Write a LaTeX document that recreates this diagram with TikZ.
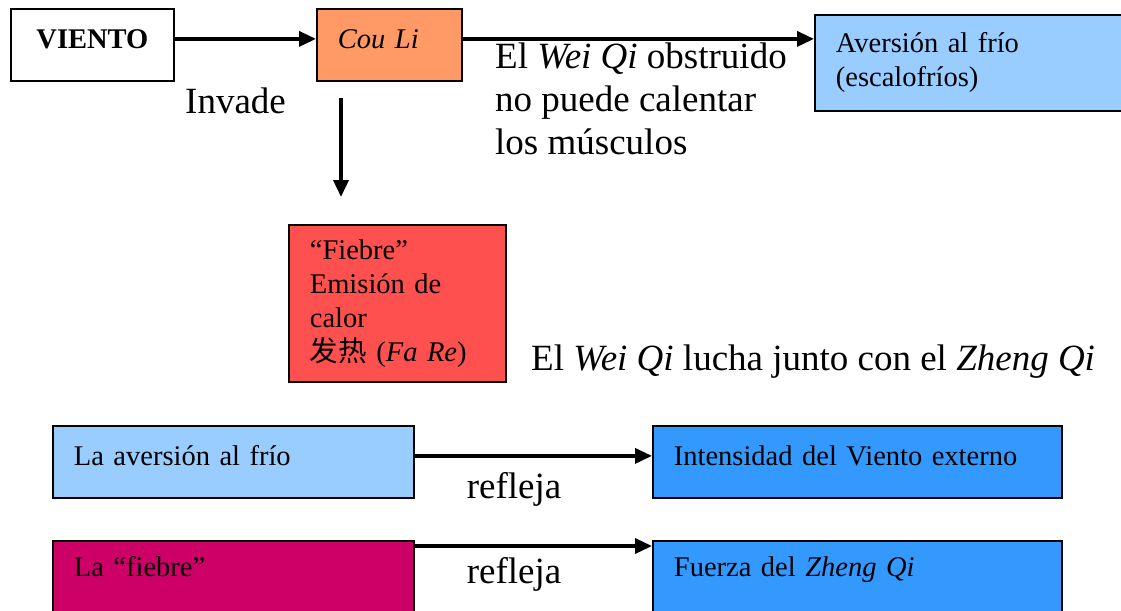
\documentclass[tikz,border=0pt]{standalone}
\usepackage{fontspec}
\setmainfont{Liberation Serif}
\newfontfamily\cjk{Noto Sans CJK SC}
\usepackage{xcolor}
\usetikzlibrary{arrows.meta}
\definecolor{naranja}{HTML}{FF9966}
\definecolor{rojo}{HTML}{FF5050}
\definecolor{celeste}{HTML}{99CCFF}
\definecolor{azul}{HTML}{3399FF}
\definecolor{granate}{HTML}{CC0066}
\tikzstyle{arr}=[-{Triangle[length=17pt,width=15pt]},line width=3.5pt]
\tikzstyle{box}=[draw,line width=1.8pt,anchor=north west,inner xsep=21pt,inner ysep=0pt,align=left,font=\fontsize{28.5}{34}\selectfont]
\tikzstyle{fila}=[box,text height=39.5pt,text depth=32.5pt]
\tikzstyle{lbl}=[inner sep=0pt,anchor=base west,align=left,font=\fontsize{37}{43}\selectfont]

\begin{document}
\begin{tikzpicture}[x=1pt,y=-1pt]
\useasboundingbox (0,0) rectangle (1121,610);
\clip (0,0) rectangle (1121,610);
\node[fila,align=center,text width=121pt] (viento) at (10,8) {\textbf{VIENTO}};
\node[fila,fill=naranja,text width=103pt] (couli) at (316,8) {\textit{Cou Li}};
\node[box,fill=celeste,text width=288pt,minimum height=96pt] (aver) at (814,14) {Aversión al frío\\(escalofríos)};
\node[box,fill=rojo,text width=175pt,minimum height=157pt] (fiebre) at (288,224) {“Fiebre”\\Emisión de\\calor\\{\cjk 发热} (\textit{Fa Re})};
\node[fila,fill=celeste,text width=319pt] (lav) at (52,425) {La aversión al frío};
\node[fila,fill=azul,text width=367pt] (int) at (652,425) {Intensidad del Viento externo};
\node[fila,fill=granate,text width=319pt,text height=36pt,text depth=44pt] (lf) at (52,540) {La “fiebre”};
\node[fila,fill=azul,text width=367pt,text height=36pt,text depth=44pt] (fz) at (652,540) {Fuerza del \textit{Zheng Qi}};
\node[lbl] (invade) at (185,113) {Invade};
\node[lbl] (obstr) at (495,154) {El \textit{Wei Qi} obstruido\\no puede calentar\\los músculos};
\node[lbl] (lucha) at (531,370) {El \textit{Wei Qi} lucha junto con el \textit{Zheng Qi}};
\node[lbl,anchor=base] (ref1) at (514,498) {refleja};
\node[lbl,anchor=base] (ref2) at (514,583) {refleja};
\coordinate (d1) at (341,98);
\coordinate (d2) at (341,197);
\draw[arr] ([yshift=6pt]viento.east) -- ([yshift=6pt]couli.west);
\draw[arr] ([yshift=6pt]couli.east) -- ([yshift=6pt]couli.east -| aver.west);
\draw[arr] (d1) -- (d2);
\draw[arr] ([yshift=6pt]lav.east) -- ([yshift=6pt]int.west);
\draw[arr] ([yshift=-6pt]lf.north east) -- ([yshift=-6pt]fz.north west);
\end{tikzpicture}
\end{document}
